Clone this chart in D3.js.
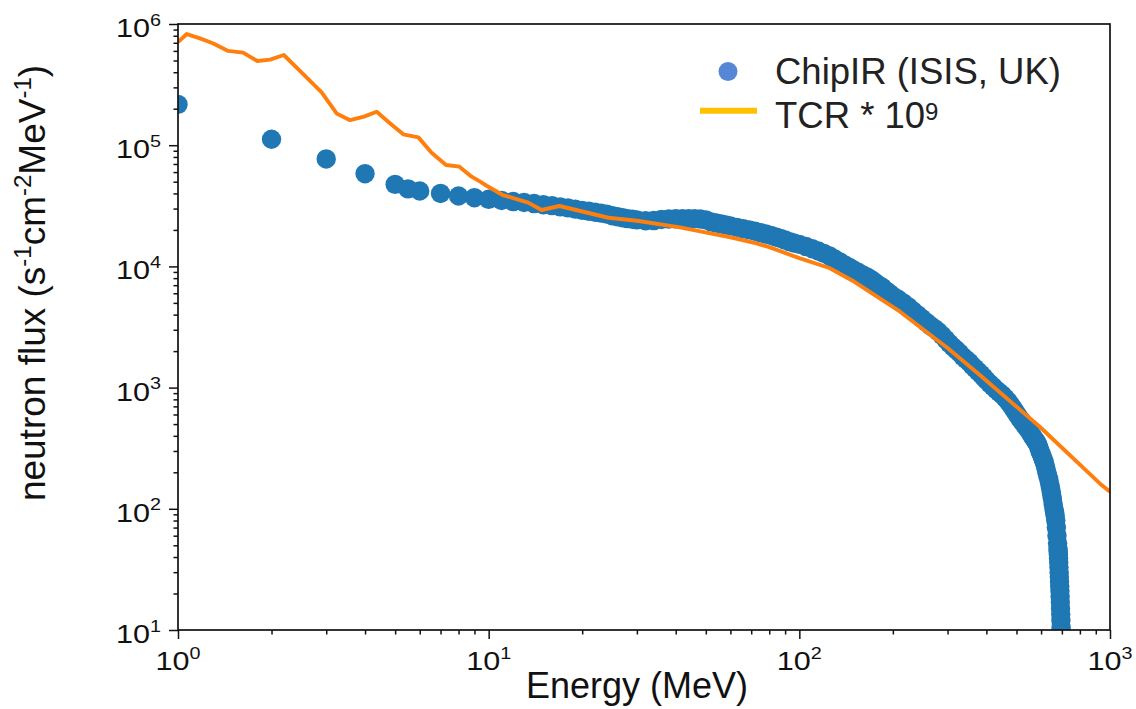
<!DOCTYPE html>
<html><head><meta charset="utf-8">
<script src="https://cdn.jsdelivr.net/npm/d3@7"></script>
<style>body{margin:0;background:#fff}</style>
</head><body>
<svg id="chart" width="1136" height="709"></svg>
<script>
// ---- data ----
const chipEnergy = [1,2,3,4,5,5.5,6,7,8,9,10,11,12,13,14,15,16,17,18,19,20,21,22,23,24,25,26,27,28,29,30,32,34,36,38,40,42,44,46,48,50,52,54,56,58,60,63,66,69,72,75,78,81,84,87,90,93,96,100,105,110,115,120,125,130,135,140,145,150,155,160,165,170,175,180,185,190,195,200,208,216,224,232,240,248,256,264,272,280,288,296,304,312,320,328,336,344,352,360,368,376,384,392,400,410,420,430,440,450,460,470,480,490,500,510,520,530,540,550,560,565,570,575,580,585,590,595,600,605,610,615,620,625,630,635,640,644,648,652,656,660,663,666,669,672,675,678,680,681,682,683,684,685,686,687,688,689,690,691,692,693,694,695,696,697,698,699,700];
const chipFlux = [2.17e5,1.12e5,7.7e4,5.82e4,4.75e4,4.36e4,4.19e4,4.0e4,3.81e4,3.69e4,3.58e4,3.5e4,3.43e4,3.37e4,3.3e4,3.23e4,3.17e4,3.1e4,3.04e4,2.97e4,2.9e4,2.85e4,2.8e4,2.75e4,2.7e4,2.62e4,2.57e4,2.52e4,2.48e4,2.45e4,2.42e4,2.38e4,2.39e4,2.44e4,2.46e4,2.47e4,2.47e4,2.48e4,2.48e4,2.46e4,2.42e4,2.33e4,2.28e4,2.24e4,2.2e4,2.16e4,2.1e4,2.05e4,2.0e4,1.95e4,1.9e4,1.85e4,1.8e4,1.75e4,1.7e4,1.65e4,1.6e4,1.56e4,1.52e4,1.46e4,1.4e4,1.34e4,1.28e4,1.22e4,1.15e4,1.09e4,1.03e4,9800,9300,8900,8500,8200,7800,7400,7000,6700,6300,6000,5700,5350,5000,4650,4300,4000,3720,3470,3250,3080,2900,2700,2500,2320,2170,2050,1930,1800,1710,1620,1520,1440,1360,1290,1220,1150,1080,1020,960,915,870,820,770,715,660,610,565,530,495,465,435,405,390,378,365,355,340,320,300,285,270,255,240,222,205,188,175,160,147,134,122,110,100,94,88,80,70,60,52,47,44.5,42,39,36,33,30,27.5,25,23,21,19,17,15,13.5,12,10.5,9.2,8,7,6];
const tcrEnergy = [1.0,1.067,1.177,1.30,1.45,1.62,1.80,1.98,2.19,2.53,2.90,3.24,3.58,3.97,4.36,4.81,5.31,5.94,6.55,7.29,8.05,8.81,9.39,9.85,11.1,12.6,13.4,14.8,16.9,24.3,30,41.3,50.3,60,72.8,80,100,125,150,211,300,381,594,927,1000];
const tcrFlux = [7.1e5,8.26e5,7.6e5,6.9e5,6.0e5,5.8e5,4.95e5,5.08e5,5.55e5,3.86e5,2.73e5,1.83e5,1.61e5,1.72e5,1.89e5,1.52e5,1.23e5,1.16e5,8.67e4,6.87e4,6.65e4,5.5e4,5.0e4,4.63e4,3.88e4,3.53e4,3.36e4,2.92e4,3.15e4,2.52e4,2.38e4,2.1e4,1.9e4,1.74e4,1.55e4,1.44e4,1.17e4,9700,7500,4230,2120,1270,475,162,138];
const xTickExps = [0,1,2,3];
const yTickExps = [1,2,3,4,5,6];
const xLabel = "Energy (MeV)";
const yLabelParts = [["neutron flux (s",false],["-1",true],["cm",false],["-2",true],["MeV",false],["-1",true],[")",false]];
const legendChip = "ChipIR (ISIS, UK)";
const legendTcr = ["TCR * 10","9"];

// ---- layout ----
const svg = d3.select("#chart");
const L = 178, R = 1110, T = 24, B = 630;
const x = d3.scaleLog().domain([1,1000]).range([L,R]);
const y = d3.scaleLog().domain([10,1e6]).range([B,T]);
const font = "'Liberation Sans', Arial, sans-serif";
const ink = "#111";

svg.append("rect").attr("width",1136).attr("height",709).attr("fill","#fff");
svg.append("defs").append("clipPath").attr("id","clip")
  .append("rect").attr("x",L).attr("y",T).attr("width",R-L).attr("height",B-T);

const plot = svg.append("g").attr("clip-path","url(#clip)");
const chip = chipEnergy.map((e,i)=>({e, v: chipFlux[i]}));
plot.selectAll("circle.chip").data(chip).join("circle")
  .attr("class","chip")
  .attr("cx", d=>x(d.e)).attr("cy", d=>y(d.v)).attr("r", 9.7)
  .attr("fill","#1f77b4");

const tcr = tcrEnergy.map((e,i)=>({e, v: tcrFlux[i]}));
plot.append("path").datum(tcr)
  .attr("d", d3.line().x(d=>x(d.e)).y(d=>y(d.v)))
  .attr("fill","none").attr("stroke","#ff7f0e").attr("stroke-width",3.9)
  .attr("stroke-linejoin","round").attr("stroke-linecap","butt");

// ---- axes ----
function minors(lo, hi){ const out=[]; for(let e=lo;e<hi;e++) for(let m=2;m<=9;m++) out.push(m*Math.pow(10,e)); return out; }
const xMaj = xTickExps.map(e=>Math.pow(10,e));
const yMaj = yTickExps.map(e=>Math.pow(10,e));

function styleAxis(g){ g.select(".domain").remove(); g.selectAll("line").attr("stroke",ink).attr("stroke-width",1.5); g.selectAll("text").remove(); }

svg.append("g").attr("transform",`translate(0,${B})`)
  .call(d3.axisBottom(x).tickValues(xMaj).tickSize(9).tickFormat("")).call(styleAxis);
svg.append("g").attr("transform",`translate(0,${B})`)
  .call(d3.axisBottom(x).tickValues(minors(0,3)).tickSize(4.5).tickFormat("")).call(styleAxis);
svg.append("g").attr("transform",`translate(${L},0)`)
  .call(d3.axisLeft(y).tickValues(yMaj).tickSize(9).tickFormat("")).call(styleAxis);
svg.append("g").attr("transform",`translate(${L},0)`)
  .call(d3.axisLeft(y).tickValues(minors(1,6)).tickSize(4.5).tickFormat("")).call(styleAxis);

svg.append("rect").attr("x",L).attr("y",T).attr("width",R-L).attr("height",B-T)
  .attr("fill","none").attr("stroke",ink).attr("stroke-width",1.7);

// tick labels
const tickSize = 25.5, supSize = 16.5, stretch = 1.2;
function powLabel(sel, e){
  sel.append("tspan").text("10");
  sel.append("tspan").attr("font-size",supSize).attr("dy",-11.5).text(String(e));
}
xTickExps.forEach(e=>{
  const t = svg.append("g").attr("transform",`translate(${x(Math.pow(10,e))},670)`)
    .append("text").attr("transform",`scale(${stretch},1)`)
    .attr("text-anchor","middle").attr("font-family",font).attr("font-size",tickSize).attr("fill",ink);
  powLabel(t, e);
});
yTickExps.forEach(e=>{
  const t = svg.append("g").attr("transform",`translate(161,${y(Math.pow(10,e))+13})`)
    .append("text").attr("transform",`scale(${stretch},1)`)
    .attr("text-anchor","end").attr("font-family",font).attr("font-size",tickSize).attr("fill",ink);
  powLabel(t, e);
});

// axis titles
svg.append("text").attr("x",637).attr("y",698).attr("text-anchor","middle")
  .attr("font-family",font).attr("font-size",36).attr("fill",ink).text(xLabel);

const yl = svg.append("text").attr("transform","translate(45,283) rotate(-90)")
  .attr("text-anchor","middle").attr("font-family",font).attr("font-size",37).attr("fill",ink);
yLabelParts.forEach(([s,sup],i)=>{
  const prevSup = i>0 && yLabelParts[i-1][1];
  const ts = yl.append("tspan").text(s);
  if(sup){ ts.attr("font-size",24).attr("dy",-14); }
  else if(prevSup){ ts.attr("dy",14); }
});

// legend
const lg = svg.append("g");
lg.append("circle").attr("cx",728).attr("cy",71.5).attr("r",9.5).attr("fill","#5686d6");
lg.append("line").attr("x1",700).attr("x2",757).attr("y1",110.7).attr("y2",110.7)
  .attr("stroke","#ffc000").attr("stroke-width",6);
lg.append("text").attr("x",775).attr("y",83.5).attr("font-family",font).attr("font-size",36.5)
  .attr("fill","#222").text(legendChip);
const lt = lg.append("text").attr("x",775).attr("y",127.5).attr("font-family",font).attr("font-size",36.5).attr("fill","#222");
lt.append("tspan").text(legendTcr[0]);
lt.append("tspan").attr("font-size",24).attr("dy",-7.5).text(legendTcr[1]);
</script>
</body></html>
